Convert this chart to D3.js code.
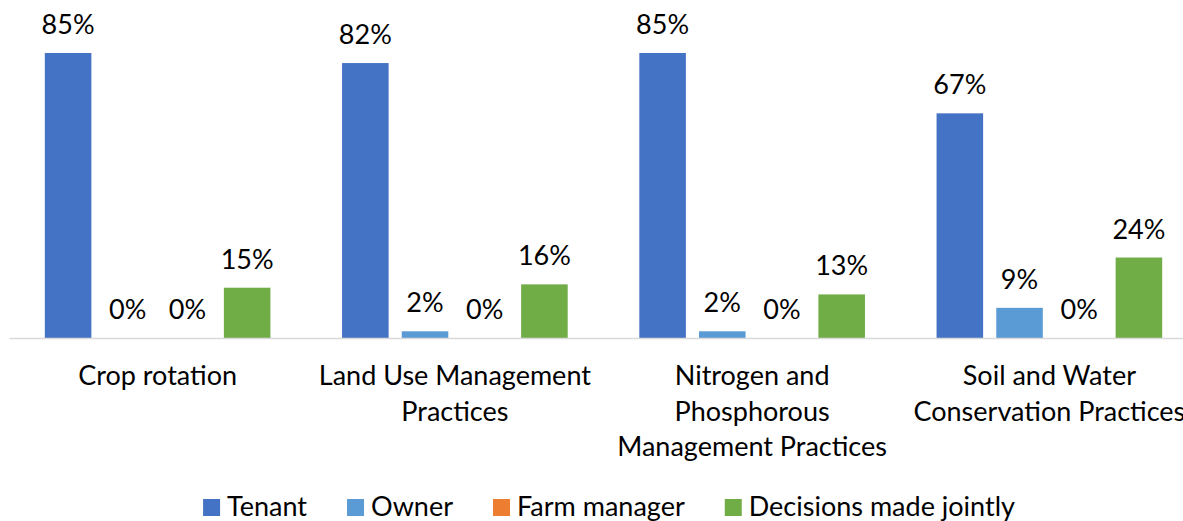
<!DOCTYPE html>
<html>
<head>
<meta charset="utf-8">
<script src="https://cdn.jsdelivr.net/npm/d3@7"></script>
<style>
    body { margin: 0; background: #fff; overflow: hidden; }
    #chart text { font-family: Lato, "Open Sans", sans-serif; fill: #000; }
</style>
</head>
<body>
<div id="chart"></div>
<script>
// Dati
const categories = ['Crop rotation', 'Land Use Management Practices', 'Nitrogen and Phosphorous Management Practices', 'Soil and Water Conservation Practices'];
const categoryLines = [
    ['Crop rotation'],
    ['Land Use Management', 'Practices'],
    ['Nitrogen and', 'Phosphorous', 'Management Practices'],
    ['Soil and Water', 'Conservation Practices']
];
const seriesNames = ['Tenant', 'Owner', 'Farm manager', 'Decisions made jointly'];
const tenant = [0.85, 0.82, 0.85, 0.67];
const owner = [0.00, 0.02, 0.02, 0.09];
const farmManager = [0.00, 0.00, 0.00, 0.00];
const jointly = [0.15, 0.16, 0.13, 0.24];
const seriesColors = ['#4472C4', '#5B9BD5', '#ED7D31', '#70AD47'];

const seriesValues = [tenant, owner, farmManager, jointly];

const width = 1183, height = 521;
const fontSize = 27;
const baseY = 338;

const svg = d3.select('#chart').append('svg')
    .attr('width', width)
    .attr('height', height);

// Scale
const x0 = d3.scaleBand()
    .domain(categories)
    .range([9, 1198])
    .padding(0);

const x1 = d3.scaleBand()
    .domain(seriesNames)
    .range([0, x0.bandwidth()])
    .paddingInner(0.22)
    .paddingOuter(0.6);

const y = d3.scaleLinear()
    .domain([0, 1])
    .range([baseY, baseY - 335.3]);

// Barre
const groups = svg.append('g')
    .selectAll('g')
    .data(categories)
    .join('g')
    .attr('transform', d => `translate(${x0(d)},0)`);

const cells = groups.selectAll('g')
    .data((c, ci) => seriesNames.map((s, si) => ({ series: s, value: seriesValues[si][ci], color: seriesColors[si] })))
    .join('g');

cells.append('rect')
    .attr('x', d => x1(d.series))
    .attr('y', d => y(d.value))
    .attr('width', x1.bandwidth())
    .attr('height', d => baseY - y(d.value))
    .attr('fill', d => d.color);

cells.append('text')
    .attr('x', d => x1(d.series) + x1.bandwidth() / 2)
    .attr('y', d => y(d.value) - 19)
    .attr('text-anchor', 'middle')
    .style('font-size', fontSize + 'px')
    .text(d => d3.format('.0%')(d.value));

// Asse X
const xAxis = svg.append('g')
    .attr('transform', `translate(0,${baseY})`)
    .call(d3.axisBottom(x0).tickSize(0).tickSizeOuter(0));

xAxis.select('.domain')
    .attr('stroke', '#d9d9d9')
    .attr('stroke-width', 1.5);

xAxis.selectAll('.tick text').remove();
xAxis.selectAll('.tick').each(function (d, i) {
    const t = d3.select(this).append('text')
        .attr('text-anchor', 'middle')
        .style('font-size', fontSize + 'px');
    categoryLines[i].forEach((line, li) => {
        t.append('tspan')
            .attr('x', 0)
            .attr('y', 47 + li * 35.5)
            .text(line);
    });
});

// Legenda
const legend = svg.append('g');
let lx = 0;
seriesNames.forEach((name, i) => {
    const item = legend.append('g').attr('transform', `translate(${lx},0)`);
    item.append('rect')
        .attr('x', 0)
        .attr('y', 499)
        .attr('width', 17)
        .attr('height', 17)
        .attr('fill', seriesColors[i]);
    const txt = item.append('text')
        .attr('x', 24)
        .attr('y', 516)
        .style('font-size', fontSize + 'px')
        .text(name);
    lx += 24 + txt.node().getComputedTextLength() + 40;
});
const legendWidth = lx - 40;
legend.attr('transform', `translate(${609 - legendWidth / 2},0)`);
</script>
</body>
</html>
